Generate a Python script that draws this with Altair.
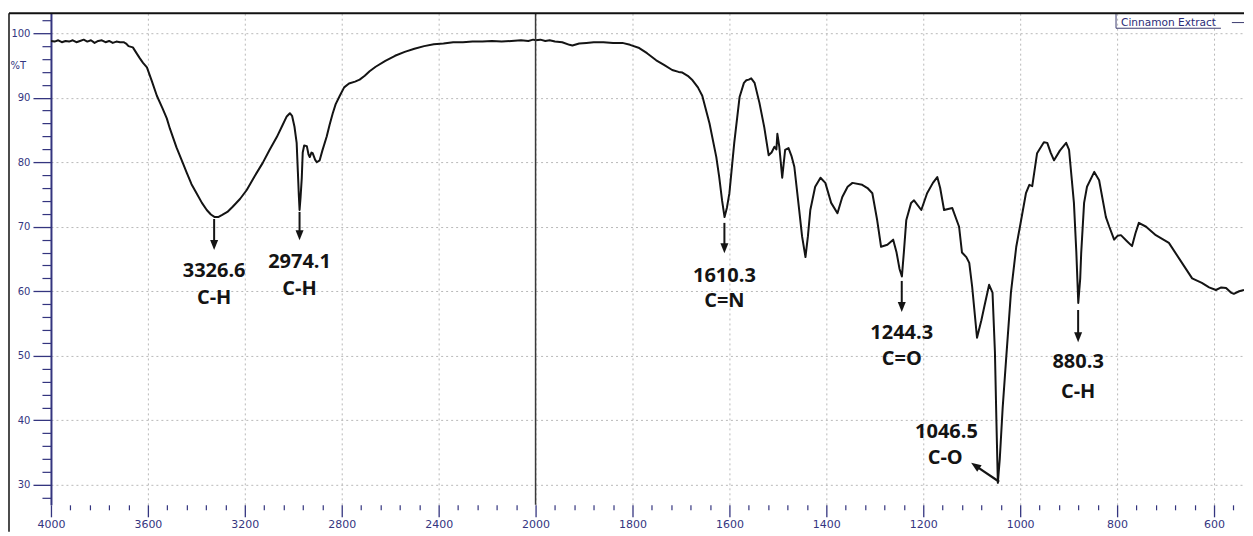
import altair as alt
import pandas as pd

# ---------------- spectrum ----------------
wavenumber = [
    4000, 3985, 3970, 3955, 3940, 3925, 3910, 3895, 3880, 3865, 3850, 3835, 3820, 3805, 3790,
    3775, 3760, 3745, 3730, 3715, 3700, 3690, 3680, 3662, 3645, 3633, 3620, 3604, 3584, 3563,
    3540, 3522, 3509, 3482, 3456, 3439, 3420, 3398, 3377, 3357, 3340, 3324, 3310, 3295, 3272,
    3250, 3220, 3192, 3160, 3126, 3098, 3068, 3045, 3027, 3014, 3005, 2995, 2986, 2981, 2977,
    2974, 2970, 2965, 2961, 2955, 2944, 2937, 2932, 2925, 2920, 2910, 2903, 2891, 2880, 2862,
    2850, 2837, 2825, 2808, 2790, 2770, 2745, 2726, 2705, 2685, 2660, 2620, 2580, 2540, 2500,
    2460, 2420, 2380, 2340, 2300, 2260, 2220, 2180, 2140, 2100, 2060, 2030, 2010, 2000, 1990,
    1980, 1971, 1960, 1945, 1930, 1924, 1910, 1895, 1880, 1860, 1840, 1821, 1805, 1786, 1770,
    1751, 1735, 1718, 1705, 1697, 1686, 1676, 1665, 1656, 1641, 1627, 1621, 1615, 1610, 1605,
    1600, 1590, 1579, 1570, 1565, 1560, 1555, 1548, 1538, 1528, 1519, 1513, 1507, 1503, 1501,
    1497, 1491, 1485, 1478, 1472, 1466, 1456, 1450, 1443, 1438, 1433, 1423, 1412, 1402, 1390,
    1377, 1367, 1356, 1346, 1326, 1315, 1305, 1295, 1287, 1274, 1262, 1255, 1249, 1244, 1240,
    1235, 1225, 1219, 1204, 1192, 1180, 1171, 1165, 1157, 1140, 1126, 1120, 1111, 1105, 1099,
    1089, 1080, 1074, 1064, 1057, 1052, 1049, 1046, 1042, 1036, 1029, 1019, 1008, 998, 988,
    981, 975, 965, 951, 944, 937, 930, 918, 905, 899, 889, 884, 880, 876, 874,
    868, 862, 847, 837, 823, 816, 806, 799, 792, 780, 769, 762, 755, 740, 720,
    693, 666, 645, 625, 610, 596, 585, 575, 565, 559, 548, 538,
]
transmittance = [
    98.8, 98.7, 98.9, 98.6, 98.8, 98.7, 98.9, 98.6, 98.8, 99.0, 98.7, 98.9, 98.5, 98.8, 98.9,
    98.6, 98.8, 98.5, 98.7, 98.6, 98.6, 98.4, 98.0, 97.8, 96.8, 96.1, 95.4, 94.7, 92.6, 90.3,
    88.4, 86.8, 85.2, 82.3, 79.9, 78.3, 76.6, 75.1, 73.7, 72.6, 71.9, 71.5, 71.5, 71.8, 72.3,
    73.1, 74.3, 75.7, 77.8, 79.9, 81.9, 83.9, 85.7, 87.1, 87.6, 87.2, 85.5, 83.0, 78.5, 74.8,
    72.6, 74.5, 77.5, 81.5, 82.6, 82.5, 81.2, 80.8, 81.5, 81.4, 80.4, 80.0, 80.3, 81.8, 84.0,
    85.8, 87.6, 89.0, 90.3, 91.6, 92.2, 92.5, 92.8, 93.4, 94.1, 94.8, 95.7, 96.5, 97.1, 97.6,
    98.0, 98.3, 98.4, 98.6, 98.6, 98.7, 98.7, 98.8, 98.7, 98.8, 98.9, 98.8, 99.0, 98.9, 99.0,
    98.8, 98.9, 98.7, 98.6, 98.2, 98.1, 98.4, 98.5, 98.6, 98.6, 98.5, 98.5, 98.2, 97.7, 96.9,
    95.8, 95.1, 94.3, 94.0, 93.9, 93.4, 92.7, 91.6, 90.3, 86.0, 80.8, 77.7, 74.0, 71.5, 73.0,
    75.2, 83.0, 90.1, 92.3, 92.7, 92.8, 93.0, 92.3, 89.2, 85.4, 81.1, 81.5, 82.4, 82.0, 84.4,
    82.4, 77.6, 81.9, 82.2, 81.0, 79.3, 72.6, 68.5, 65.3, 68.5, 72.6, 76.2, 77.6, 76.8, 73.7,
    72.1, 74.6, 76.2, 76.8, 76.5, 76.0, 75.2, 71.0, 66.9, 67.2, 68.0, 66.0, 63.5, 62.3, 66.0,
    71.0, 73.7, 74.1, 72.6, 75.2, 76.8, 77.7, 76.0, 72.6, 72.9, 70.0, 66.0, 65.3, 64.4, 60.7,
    52.8, 55.5, 57.6, 61.0, 59.8, 50.5, 40.0, 30.3, 34.0, 42.0, 49.4, 59.8, 66.9, 71.0, 75.2,
    76.5, 76.3, 81.4, 83.1, 83.0, 81.5, 80.3, 81.8, 83.0, 81.9, 73.7, 66.0, 58.2, 62.0, 65.9,
    73.7, 76.2, 78.5, 77.2, 71.5, 70.0, 68.0, 68.6, 68.7, 67.8, 67.0, 69.0, 70.6, 70.0, 68.7,
    67.5, 64.4, 62.0, 61.3, 60.6, 60.2, 60.6, 60.5, 59.8, 59.6, 60.0, 60.2,
]

# ---------------- peak annotations ----------------
peak_wn = [3326.6, 2974.1, 1610.3, 1244.3, 880.3]
peak_text = ["3326.6", "2974.1", "1610.3", "1244.3", "880.3"]
peak_group = ["C-H", "C-H", "C=N", "C=O", "C-H"]
peak_num_t = [63.1, 64.5, 62.4, 53.6, 49.05]
peak_group_t = [59.0, 60.35, 58.5, 49.5, 44.4]
arrow_top_t = [71.2, 72.3, 70.6, 61.6, 57.1]
arrow_tip_t = [66.4, 67.9, 65.9, 56.8, 52.1]

co_text = ["1046.5", "C-O"]
co_text_wn = [1152.0, 1154.6]
co_text_t = [38.2, 34.2]
co_arrow_wn = [1043.3, 1092.6]
co_arrow_t = [30.47, 32.97]

# ---------------- axes ----------------
x_major = [4000, 3600, 3200, 2800, 2400, 2000, 1800, 1600, 1400, 1200, 1000, 800, 600]
x_minor = [v for v in range(4000, 2000, -80) if v % 400] + [v for v in range(1960, 538, -40) if v % 200]
y_major = [30, 40, 50, 60, 70, 80, 90, 100]
y_minor = [v for v in range(28, 104, 2) if v % 10]

legend_label = "Cinnamon Extract"

W, H = 1194, 492
NAVY = "#34357f"
INK = "#141414"
PX_PER_T = 6.457

X_SCALE = alt.Scale(domain=[4000, 2000, 538], range=[0, 485, W], nice=False, zero=False)
Y_SCALE = alt.Scale(domain=[26.9, 103.1], nice=False, zero=False)

spec_df = pd.DataFrame({"wn": wavenumber, "t": transmittance})


def xq(field, axis=None):
    return alt.X(field, type="quantitative", scale=X_SCALE, axis=axis)


def yq(field, axis=None):
    return alt.Y(field, type="quantitative", scale=Y_SCALE, axis=axis)


major_x_axis = alt.Axis(
    values=x_major, orient="bottom", format="d", title=None, grid=True,
    gridColor="#b9b9b9", gridDash=[2, 3], gridWidth=1, domain=False,
    tickSize=12, tickColor=NAVY, tickWidth=1.3, labelColor=NAVY, labelFont="DejaVu Sans",
    labelFontSize=11, labelPadding=2, labelOverlap=False, labelFlush=False,
)
major_y_axis = alt.Axis(
    values=y_major, orient="left", grid=True, gridColor="#b9b9b9", gridDash=[2, 3],
    gridWidth=1, domain=True, domainColor=NAVY, domainWidth=2, tickSize=18,
    tickColor=NAVY, tickWidth=1.3, labelColor=NAVY, labelFont="DejaVu Sans", labelFontSize=10,
    labelPadding=3, labelOverlap=False, labelFlush=False,
    title="%T", titleAngle=0, titleX=-41, titleY=52, titleAlign="left",
    titleBaseline="middle", titleFont="DejaVu Sans", titleFontSize=10,
    titleFontWeight="normal", titleColor=NAVY,
)
minor_x_axis = alt.Axis(
    values=x_minor, orient="bottom", title=None, grid=False, domain=False, labels=False,
    tickSize=5, tickColor=NAVY, tickWidth=1.2,
)
minor_y_axis = alt.Axis(
    values=y_minor, orient="left", title=None, grid=False, domain=False, labels=False,
    tickSize=9, tickColor=NAVY, tickWidth=1.2,
)

spectrum = alt.Chart(spec_df).mark_line(
    color=INK, strokeWidth=2, clip=True, strokeJoin="round"
).encode(x=xq("wn", major_x_axis), y=yq("t", major_y_axis))

minor = alt.Chart(spec_df.head(1)).mark_point(opacity=0).encode(
    x=xq("wn", minor_x_axis), y=yq("t", minor_y_axis)
)

break_df = pd.DataFrame({"wn": [2000]})
break_line = alt.Chart(break_df).mark_rule(color="#3a3a3a", strokeWidth=1.5).encode(x=xq("wn"))

arrow_df = pd.DataFrame({
    "wn": peak_wn,
    "top": arrow_top_t,
    "head": [t + 5 / PX_PER_T for t in arrow_tip_t],
})
arrow_lines = alt.Chart(arrow_df).mark_rule(color=INK, strokeWidth=2).encode(
    x=xq("wn"), y=yq("top"), y2="head"
)
ARROW_SHAPE = "M-0.8,-1L0.8,-1L0,1Z"
arrow_heads = alt.Chart(arrow_df).mark_point(
    shape=ARROW_SHAPE, size=100, filled=True, color=INK, opacity=1
).encode(x=xq("wn"), y=yq("head"))

text_df = pd.DataFrame({
    "wn": peak_wn + peak_wn + co_text_wn,
    "t": peak_num_t + peak_group_t + co_text_t,
    "label": peak_text + peak_group + co_text,
})
texts = alt.Chart(text_df).mark_text(
    font="Open Sans", fontWeight="bold", fontSize=20, color=INK, align="center", baseline="middle"
).encode(x=xq("wn"), y=yq("t"), text="label:N")

co_df = pd.DataFrame({"wn": [co_arrow_wn[0]], "wn2": [co_arrow_wn[1]],
                      "t": [co_arrow_t[0]], "t2": [co_arrow_t[1]]})
co_line = alt.Chart(co_df).mark_rule(color=INK, strokeWidth=2.2).encode(
    x=xq("wn"), x2="wn2", y=yq("t"), y2="t2"
)
co_head = alt.Chart(co_df).mark_point(
    shape=ARROW_SHAPE, size=100, filled=True, color=INK, opacity=1, angle=124
).encode(x=xq("wn2"), y=yq("t2"))

# legend box (top right)
leg_text = alt.Chart(pd.DataFrame({"wn": [791.8], "t": [101.65], "label": [legend_label]})).mark_text(
    font="DejaVu Sans", fontSize=10.6, color="#2b2c78", align="left", baseline="middle"
).encode(x=xq("wn"), y=yq("t"), text="label:N")
leg_rules = alt.Chart(pd.DataFrame({
    "wn": [802.1, 802.1, 563.0],
    "wn2": [802.1, 585.6, 538.0],
    "t": [103.1, 100.77, 101.65],
    "t2": [100.77, 100.77, 101.65],
})).mark_rule(color="#3b3b6e", strokeWidth=1).encode(x=xq("wn"), x2="wn2", y=yq("t"), y2="t2")

# outer frame (decoration)
frame_top = alt.Chart(break_df).mark_rule(color="#111", strokeWidth=2).encode(
    x=alt.value(-42), x2=alt.value(W), y=alt.value(0)
)
frame_left = alt.Chart(break_df).mark_rule(color="#111", strokeWidth=1.5).encode(
    x=alt.value(-42), y=alt.value(0), y2=alt.value(H + 27)
)

chart = alt.layer(
    spectrum, minor, break_line, arrow_lines, arrow_heads, co_line, co_head, texts,
    leg_rules, leg_text, frame_top, frame_left,
).resolve_axis(x="independent", y="independent").properties(
    width=W, height=H, padding={"left": 0, "top": 4, "right": 0, "bottom": 0},
    background="white",
).configure_view(strokeWidth=0)

chart.save("out.html", embed_options={"renderer": "svg", "actions": False})
